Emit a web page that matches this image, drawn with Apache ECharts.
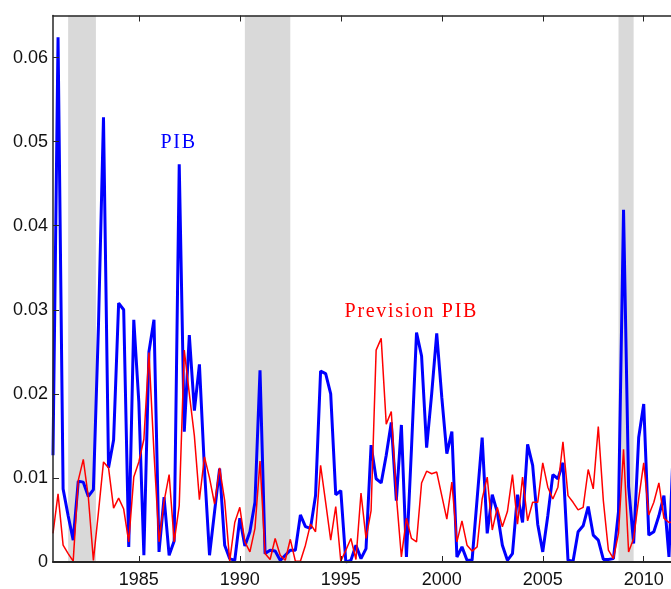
<!DOCTYPE html>
<html>
<head>
<meta charset="utf-8">
<script src="https://cdn.jsdelivr.net/npm/echarts@6/dist/echarts.min.js"></script>
<style>
  html, body { margin: 0; padding: 0; background: #fff; }
  #main { width: 671px; height: 589px; }
</style>
</head>
<body>
<div id="main"></div>
<script>
// trimestres depuis 1980T4
var startYear = 1980.75;
var endYear = 2011.35; // la figure est coupee a droite

// PIB (bleu)
var pib = [
  0.0127, 0.0624, 0.0087, 0.0055, 0.0026, 0.0096, 0.0095, 0.0078, 0.0086, 0.0280,
  0.0529, 0.0112, 0.0145, 0.0308, 0.0300, 0.0018, 0.0288, 0.0190, 0.0008, 0.0250,
  0.0288, 0.0012, 0.0077, 0.0008, 0.0025, 0.0473, 0.0155, 0.0270, 0.0180, 0.0235,
  0.0110, 0.0008, 0.0060, 0.0111, 0.0020, 0.0004, 0.0002, 0.0052, 0.0019, 0.0036,
  0.0071, 0.0228, 0.0010, 0.0014, 0.0013, 0.0002, 0.0008, 0.0014, 0.0014, 0.0056,
  0.0042, 0.0040, 0.0079, 0.0227, 0.0224, 0.0200, 0.0080, 0.0085, 0.0000, 0.0002,
  0.0020, 0.0004, 0.0016, 0.0139, 0.0099, 0.0094, 0.0127, 0.0166, 0.0073, 0.0163,
  0.0006, 0.0135, 0.0273, 0.0245, 0.0136, 0.0200, 0.0272, 0.0196, 0.0129, 0.0155,
  0.0006, 0.0018, 0.0002, 0.0002, 0.0075, 0.0148, 0.0034, 0.0080, 0.0059, 0.0020,
  0.0002, 0.0010, 0.0080, 0.0047, 0.0140, 0.0115, 0.0045, 0.0012, 0.0055, 0.0104,
  0.0099, 0.0118, 0.0002, 0.0001, 0.0036, 0.0043, 0.0066, 0.0032, 0.0026, 0.0003,
  0.0003, 0.0004, 0.0060, 0.0419, 0.0090, 0.0022, 0.0148, 0.0188, 0.0032, 0.0036,
  0.0055, 0.0079, 0.0006, 0.0160
];

// Prevision PIB (rouge)
var prevision = [
  0.0034, 0.0081, 0.0020, 0.0010, 0.0001, 0.0097, 0.0122, 0.0077, 0.0002, 0.0059,
  0.0119, 0.0112, 0.0064, 0.0076, 0.0063, 0.0024, 0.0101, 0.0119, 0.0146, 0.0249,
  0.0130, 0.0024, 0.0072, 0.0104, 0.0024, 0.0067, 0.0252, 0.0200, 0.0150, 0.0074,
  0.0125, 0.0100, 0.0069, 0.0112, 0.0073, 0.0001, 0.0047, 0.0065, 0.0024, 0.0012,
  0.0040, 0.0120, 0.0010, 0.0003, 0.0028, 0.0008, 0.0002, 0.0027, 0.0001, 0.0001,
  0.0020, 0.0045, 0.0036, 0.0115, 0.0071, 0.0026, 0.0066, 0.0001, 0.0014, 0.0028,
  0.0003, 0.0082, 0.0028, 0.0061, 0.0252, 0.0266, 0.0164, 0.0179, 0.0079, 0.0006,
  0.0052, 0.0028, 0.0024, 0.0094, 0.0108, 0.0105, 0.0107, 0.0079, 0.0051, 0.0095,
  0.0024, 0.0049, 0.0020, 0.0013, 0.0018, 0.0075, 0.0101, 0.0038, 0.0065, 0.0042,
  0.0060, 0.0104, 0.0045, 0.0101, 0.0049, 0.0071, 0.0071, 0.0118, 0.0089, 0.0075,
  0.0089, 0.0143, 0.0079, 0.0071, 0.0062, 0.0065, 0.0110, 0.0087, 0.0161, 0.0073,
  0.0014, 0.0004, 0.0034, 0.0134, 0.0012, 0.0028, 0.0075, 0.0118, 0.0056, 0.0071,
  0.0094, 0.0052, 0.0047, 0.0048
];

// recessions (zones grises)
var recessions = [[1981.5, 1982.875], [1990.25, 1992.5], [2008.75, 2009.5]];

var yearTicks = [1985, 1990, 1995, 2000, 2005, 2010];
var valueTicks = [0, 0.01, 0.02, 0.03, 0.04, 0.05, 0.06];

// position des textes
var pibLabelAt = [1986.93, 0.0499];
var prevLabelAt = [1998.45, 0.0298];

var dates = [];
for (var i = 0; i < pib.length; i++) {
  dates.push(startYear + 0.25 * i);
}

function pairs(vals) {
  return vals.map(function (v, i) { return [dates[i], v]; });
}

function spaced(s) {
  return s.split('').join('\u200a');
}

var chart = echarts.init(document.getElementById('main'), null, { renderer: 'canvas' });

var axisColor = '#262626';

chart.setOption({
  animation: false,
  backgroundColor: '#fff',
  grid: { left: 53, top: 15.5, right: 0, bottom: 25.7 },
  xAxis: [{
    type: 'value',
    min: startYear,
    max: endYear,
    z: 5,
    axisLine: { show: true, onZero: false, lineStyle: { color: axisColor, width: 2 } },
    axisTick: { show: true, inside: true, length: 6, customValues: yearTicks, lineStyle: { color: axisColor } },
    axisLabel: {
      customValues: yearTicks, color: '#111', fontFamily: 'Liberation Sans', fontSize: 18, margin: 9,
      formatter: function (v) { return String(v); }
    },
    splitLine: { show: false }
  }, {
    type: 'value',
    position: 'top',
    min: startYear,
    max: endYear,
    z: 5,
    axisLine: { show: true, onZero: false, lineStyle: { color: axisColor, width: 1.5 } },
    axisTick: { show: true, inside: true, length: 6, customValues: yearTicks, lineStyle: { color: axisColor } },
    axisLabel: { show: false },
    splitLine: { show: false }
  }],
  yAxis: {
    type: 'value',
    min: 0,
    max: 0.065,
    z: 5,
    axisLine: { show: true, lineStyle: { color: axisColor, width: 1.5 } },
    axisTick: { show: true, inside: true, length: 6, customValues: valueTicks, lineStyle: { color: axisColor } },
    axisLabel: {
      customValues: valueTicks, color: '#111', fontFamily: 'Liberation Sans', fontSize: 18, margin: 5,
      formatter: function (v) { return String(+v.toFixed(2)); }
    },
    splitLine: { show: false }
  },
  series: [{
    name: 'recessions',
    type: 'line',
    data: [],
    z: 1,
    markArea: {
      silent: true,
      itemStyle: { color: '#d9d9d9', opacity: 1 },
      data: recessions.map(function (r) { return [{ xAxis: r[0] }, { xAxis: r[1] }]; })
    }
  }, {
    name: 'PIB',
    type: 'line',
    data: pairs(pib),
    showSymbol: false,
    symbol: 'none',
    z: 2,
    lineStyle: { color: '#0000ff', width: 3 },
    markPoint: {
      symbol: 'circle',
      symbolSize: 0,
      silent: true,
      label: { show: true, position: 'inside', formatter: '{b}', color: '#0000ff', fontFamily: 'Liberation Serif', fontSize: 20 },
      data: [{ name: spaced('PIB'), coord: pibLabelAt }]
    }
  }, {
    name: 'Prevision PIB',
    type: 'line',
    data: pairs(prevision),
    showSymbol: false,
    symbol: 'none',
    z: 3,
    lineStyle: { color: '#ff0000', width: 1.5 },
    markPoint: {
      symbol: 'circle',
      symbolSize: 0,
      silent: true,
      label: { show: true, position: 'inside', formatter: '{b}', color: '#ff0000', fontFamily: 'Liberation Serif', fontSize: 20 },
      data: [{ name: spaced('Prevision PIB'), coord: prevLabelAt }]
    }
  }]
});
</script>
</body>
</html>
